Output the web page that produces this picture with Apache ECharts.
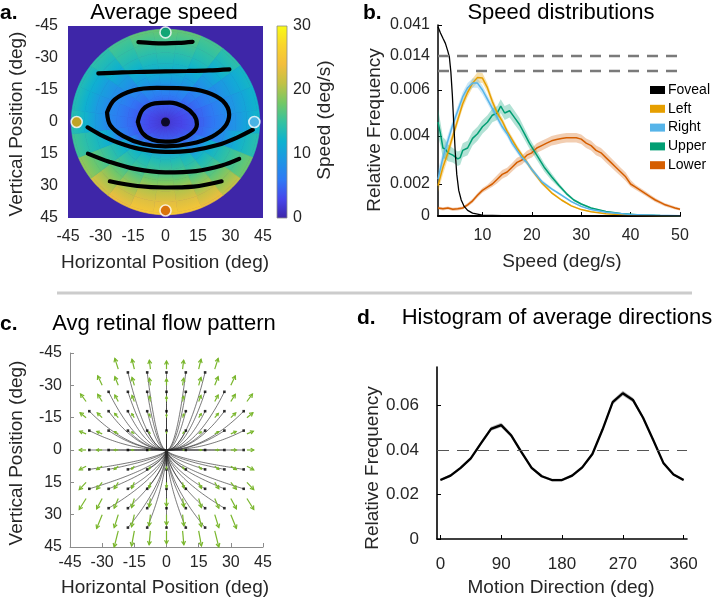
<!DOCTYPE html>
<html><head><meta charset="utf-8">
<script src="https://cdn.jsdelivr.net/npm/echarts@6/dist/echarts.min.js"></script>
<style>html,body{margin:0;padding:0;background:#fff}#c{width:713px;height:600px}</style>
</head><body><div id="c"></div>
<script>
// ================= DATA =================
// ---- Panel a: average speed field (polar samples) ----
const speedAngles = [0,15,30,45,60,75,90,105,120,135,150,165,180,195,210,225,240,255,270,285,300,315,330,345];
const speedRadii = [0,2.5,7.5,12.5,17.5,22.5,27.5,32.5,37.5,42.5];
const speedTable = [
 [1.0,2.2,2.9,3.8,4.9,6.1,7.4,8.9,10.6,12.3],
 [1.0,2.2,2.9,3.8,5.1,6.6,8.4,11.0,12.8,14.0],
 [1.0,2.2,3.3,4.6,7.0,11.6,13.3,14.8,16.1,17.5],
 [1.0,2.2,3.6,5.4,9.0,12.7,14.7,16.9,19.0,21.0],
 [1.0,2.2,3.8,8.1,12.6,14.4,16.4,19.0,21.4,23.6],
 [1.0,2.3,4.1,9.2,13.3,15.3,17.8,20.5,22.7,25.0],
 [1.0,2.3,4.1,9.8,13.4,15.5,18.1,20.9,23.1,25.4],
 [1.0,2.3,4.1,9.3,13.3,15.3,17.9,20.6,22.8,25.1],
 [1.0,2.2,3.9,8.2,12.6,14.5,16.5,19.1,21.5,23.7],
 [1.0,2.2,3.7,5.9,12.0,13.8,15.5,17.6,19.8,22.0],
 [1.0,2.2,3.3,4.3,8.2,12.4,14.0,15.6,17.4,19.0],
 [1.0,2.2,3.1,4.1,5.6,7.4,11.6,13.0,14.2,15.4],
 [1.0,2.2,3.2,4.2,5.4,6.6,7.9,9.9,12.3,13.9],
 [1.0,2.2,3.2,4.2,5.4,6.7,7.9,9.6,11.8,13.6],
 [1.0,2.2,3.4,4.6,5.9,7.2,8.6,10.0,11.9,13.6],
 [1.0,2.2,3.7,5.2,6.8,8.3,9.8,11.8,13.2,14.4],
 [1.0,2.2,3.9,6.2,8.3,10.3,12.1,13.6,14.8,15.8],
 [1.0,2.3,4.1,6.2,8.6,11.1,12.9,14.3,15.6,17.0],
 [1.0,2.3,4.1,6.4,8.9,11.4,13.1,14.5,15.8,17.2],
 [1.0,2.3,4.1,6.2,8.6,11.0,12.9,14.3,15.6,17.0],
 [1.0,2.2,3.9,6.2,8.2,10.2,12.1,13.6,14.8,15.8],
 [1.0,2.2,3.7,5.1,6.7,8.3,9.9,11.7,13.2,14.4],
 [1.0,2.2,3.3,4.5,5.7,7.0,8.4,9.8,11.2,12.6],
 [1.0,2.2,3.0,4.0,5.1,6.4,7.8,9.2,10.7,12.2]
];
const discRadius = 43.5;
const speedRange = [0, 30];
const contourInner = [[-12.8,0],[-10.5,-5.8],[-5,-8.7],[2,-9.1],[8.5,-7.2],[13.2,-3.2],[14.5,1],[12,5.4],[6,8.5],[0,9.2],[-6,8.3],[-10.6,5.2],[-12.8,0]];
const contourSecond = [[-27,-4.5],[-23.5,-10.5],[-15,-14.8],[-4,-16],[8,-15.8],[19,-14],[26.5,-9.8],[29.4,-3.5],[27.5,2],[21.5,6.8],[11.5,10.2],[0,11.4],[-10.5,10.2],[-19.5,6.6],[-25.5,1.5],[-27,-4.5]];
const contourUpperMid = [[-31,-22.8],[-20,-23.3],[-10,-23.5],[0,-23.7],[10,-23.9],[20,-24.2],[29.5,-24.7]];
const contourTop = [[-12.5,-37.4],[-6,-37.0],[0,-36.9],[6,-37.1],[12.5,-37.6]];
const contourLowerMid = [[-36,2.5],[-30,6],[-22,9.6],[-12,12.6],[0,14],[12,13.4],[24,10.8],[33,7.3],[40.3,3.6]];
const contourLower = [[-35.8,14.8],[-26,18.6],[-14,22],[0,23.6],[14,23],[26,20.4],[34,17.3]];
const contourBottom = [[-25.7,27.8],[-13,30],[0,30.7],[13,30.3],[25.9,27.8]];
const regionNames = ['Upper','Left','Right','Lower'];
const regionX = [0,-41,41,0];
const regionY = [-42,0,0,41.5];
const fixationPoint = [0, 0];

// ---- Panel b: speed distributions ----
const fovealX = [1,1.5,2,2.5,3,3.3,3.6,3.9,4.2,4.5,4.8,5.2,5.7,6.3,7,8,10,14,20,30,50];
const fovealFreq = [0.0395,0.034,0.0294,0.025,0.018,0.0135,0.0068,0.0058,0.0045,0.0033,0.0024,0.0016,0.001,0.0006,0.00035,0.00018,0.00006,0.00002,0.00001,0,0];
const sideX = [1,2,3,4,5,6,7,8,9,10,11,12,13,14,15,16,17,18,19,20,22,24,26,28,30,32,35,40,45,50];
const leftFreq = [0.0019,0.0027,0.0033,0.0040,0.0047,0.0054,0.0059,0.0063,0.00655,0.00652,0.0061,0.0055,0.0050,0.00465,0.0042,0.00385,0.0035,0.0032,0.0029,0.0026,0.00205,0.00145,0.0010,0.00063,0.0004,0.00026,0.00014,0.00005,0.00002,0.00001];
const leftCi = [0.0004,0.0003,0.00025,0.00022,0.0002,0.0002,0.0002,0.0002,0.00022,0.00022,0.0002,0.00018,0.00016,0.00015,0.00014,0.00013,0.00012,0.00011,0.0001,0.0001,0.00009,0.00008,0.00006,0.00005,0.00004,0.00003,0.00002,0.00001,0.00001,0.00001];
const rightFreq = [0.0022,0.0031,0.0038,0.0045,0.0051,0.0057,0.0061,0.0063,0.0063,0.0060,0.0056,0.0052,0.0048,0.0044,0.0041,0.0037,0.0034,0.0031,0.0029,0.0026,0.0021,0.0017,0.0013,0.0009,0.0006,0.0004,0.00024,0.0001,0.00004,0.00002];
const rightCi = [0.00035,0.0003,0.00025,0.00022,0.0002,0.0002,0.0002,0.0002,0.0002,0.0002,0.00018,0.00017,0.00016,0.00015,0.00014,0.00013,0.00012,0.00011,0.0001,0.0001,0.00009,0.00008,0.00007,0.00006,0.00005,0.00004,0.00003,0.00002,0.00001,0.00001];
const upperX = [1,1.5,2,2.5,3,4,5,5.5,6,7,8,9,10,11,12,13,13.7,14.5,15.5,16.5,17.5,18.5,19.5,21,22.5,24,25.5,27,28.5,30,32,35,38,42,46,50];
const upperFreq = [0.0046,0.0041,0.0035,0.00345,0.0033,0.0032,0.00305,0.0031,0.0034,0.0035,0.0039,0.0041,0.0044,0.0046,0.0049,0.0050,0.0053,0.0050,0.0051,0.0048,0.0045,0.0041,0.0037,0.0032,0.0027,0.0023,0.0019,0.0014,0.001,0.00075,0.0005,0.00028,0.00015,0.00007,0.00003,0.00001];
const upperCi = [0.0006,0.0005,0.00045,0.0004,0.00035,0.0003,0.0003,0.0003,0.0003,0.0003,0.0003,0.0003,0.0003,0.0003,0.0003,0.0003,0.0003,0.0003,0.0003,0.0003,0.00028,0.00025,0.00022,0.0002,0.00018,0.00015,0.00013,0.0001,0.00008,0.00006,0.00004,0.00003,0.00002,0.00001,0.00001,0.00001];
const lowerX = [1,2,3,4,5,6,7,8,9,10,11,12,13,14,15,16,17,18,19,20,21,22,23,24,25,26,27,28,29,30,31,32,33,34,35,36,37,38,39,40,41,42,43,44,45,46,47,48,49,50];
const lowerFreq = [0.0005,0.00045,0.0005,0.00042,0.00045,0.0005,0.0007,0.00095,0.0013,0.0016,0.0018,0.002,0.0022,0.0024,0.0025,0.0027,0.0029,0.003,0.0032,0.0033,0.0035,0.0036,0.0037,0.0038,0.00385,0.0039,0.00393,0.00393,0.00393,0.00387,0.0037,0.0036,0.0034,0.0033,0.0031,0.0029,0.0027,0.0025,0.0023,0.002,0.0018,0.0016,0.0014,0.0012,0.001,0.00085,0.0007,0.0006,0.0005,0.00042];
const lowerCi = [0.0001,0.0001,0.0001,0.0001,0.0001,0.0001,0.00012,0.00013,0.00014,0.00015,0.00016,0.00017,0.00017,0.00018,0.00018,0.00018,0.00019,0.00019,0.00019,0.0002,0.0002,0.0002,0.0002,0.0002,0.0002,0.0002,0.0002,0.0002,0.0002,0.0002,0.0002,0.0002,0.0002,0.0002,0.0002,0.00019,0.00019,0.00018,0.00018,0.00017,0.00016,0.00015,0.00014,0.00013,0.00012,0.00011,0.0001,0.0001,0.00009,0.00008];
const speedTicksX = [10,20,30,40,50];
const freqTicks = [0,0.002,0.004,0.006,0.014,0.041];
const axisBreak = [0.00685, 0.014];

// ---- Panel c: average retinal flow ----
const flowDotsY = [-36,-27,-18,-9,0,9,18,27,36];
const flowDotsX = [
 [-18,-9,0,9,18],
 [-27,-18,-9,0,9,18,27],
 [-36,-27,-18,-9,0,9,18,27,36],
 [-36,-27,-18,-9,0,9,18,27,36],
 [-36,-27,-18,-9,9,18,27,36],
 [-36,-27,-18,-9,0,9,18,27,36],
 [-36,-27,-18,-9,0,9,18,27,36],
 [-27,-18,-9,0,9,18,27],
 [-18,-9,0,9,18]
];
const arrowPos = [-37.5,-30,-22.5,-15,-7.5,0,7.5,15,22.5,30,37.5];
const arrowU = [
 [null,null,-1.6,-1.1,-0.5,0,0.5,1.1,1.6,null,null],
 [null,-2.1,-1.6,-1.1,-0.5,0,0.5,1.1,1.6,2.1,null],
 [-2.6,-2.1,-1.6,-1.1,-0.5,0,0.5,1.1,1.6,2.1,2.6],
 [-2.8,-2.3,-1.7,-1.2,-0.6,0,0.6,1.2,1.7,2.3,2.8],
 [-3.0,-2.5,-1.8,-1.2,-0.6,0,0.6,1.2,1.8,2.5,3.0],
 [-3.2,-2.6,-1.9,-1.3,-0.6,0,0.6,1.3,1.9,2.6,3.2],
 [-3.2,-2.6,-1.9,-1.3,-0.6,0,0.6,1.3,1.9,2.6,3.2],
 [-3.2,-2.6,-1.9,-1.3,-0.6,0,0.6,1.3,1.9,2.6,3.2],
 [-3.2,-2.6,-1.9,-1.3,-0.6,0,0.6,1.3,1.9,2.6,3.2],
 [null,-2.6,-1.9,-1.3,-0.6,0,0.6,1.3,1.9,2.6,null],
 [null,null,-1.9,-1.3,-0.6,0,0.6,1.3,1.9,null,null]
];
const arrowV = [
 [null,null,-5.0,-4.6,-4.2,-3.8,-4.2,-4.6,-5.0,null,null],
 [null,-4.4,-4.0,-3.7,-3.3,-3.0,-3.3,-3.7,-4.0,-4.4,null],
 [-3.5,-3.3,-3.0,-2.8,-2.5,-2.3,-2.5,-2.8,-3.0,-3.3,-3.5],
 [-2.3,-2.2,-2.0,-1.8,-1.7,-1.5,-1.7,-1.8,-2.0,-2.2,-2.3],
 [-1.2,-1.1,-1.0,-0.9,-0.8,-0.8,-0.8,-0.9,-1.0,-1.1,-1.2],
 [0,0,0,0,0,0,0,0,0,0,0],
 [1.7,1.6,1.5,1.4,1.3,1.2,1.3,1.4,1.5,1.6,1.7],
 [3.4,3.2,3.0,2.8,2.6,2.4,2.6,2.8,3.0,3.2,3.4],
 [5.1,4.8,4.5,4.2,3.9,3.6,3.9,4.2,4.5,4.8,5.1],
 [null,6.4,6.0,5.6,5.2,4.8,5.2,5.6,6.0,6.4,null],
 [null,null,7.5,7.0,6.5,6.0,6.5,7.0,7.5,null,null]
];

// ---- Panel d: histogram of average directions ----
const dirX = [0,15,30,45,60,75,90,105,120,135,150,165,180,195,210,225,240,255,270,285,300,315,330,345,360];
const dirFreq = [0.0265,0.0285,0.0320,0.0362,0.0430,0.0495,0.0512,0.0465,0.0390,0.0320,0.0282,0.0265,0.0265,0.0285,0.0322,0.0382,0.0492,0.0615,0.0655,0.0625,0.0545,0.0445,0.0342,0.0290,0.0265];
const dirCi = [0.0006,0.0006,0.0006,0.0007,0.0008,0.0009,0.001,0.0009,0.0008,0.0007,0.0006,0.0006,0.0006,0.0006,0.0007,0.0008,0.0009,0.001,0.0011,0.001,0.0009,0.0008,0.0007,0.0006,0.0006];
const dirUniform = 0.04;
const dirTicksX = [0,90,180,270,360];
const dirTicksY = [0,0.02,0.04,0.06];

// ================= STYLE / SCALES =================
const FONT = '"Liberation Sans", Arial, Helvetica, sans-serif';
const TXT = '#262626';
const PARULA = ['#3e26a8','#4746eb','#2f79f5','#1e96e4','#0db2cf','#35c29f','#74c865','#c1c246','#f3be3d','#f9d52c','#f9fb15'];
const regionColor = {Foveal:'#000000', Left:'#E69F00', Right:'#56B4E9', Upper:'#009E73', Lower:'#D55E00'};
const GREEN = '#79b62c';
const FLOW_BEND_UPPER = 2.0;   // streamline curvature, upper field
const FLOW_BEND_LOWER = 0.6;   // streamline curvature, lower field

function hex2rgb(h){return [parseInt(h.slice(1,3),16),parseInt(h.slice(3,5),16),parseInt(h.slice(5,7),16)];}
const PARULA_RGB = PARULA.map(hex2rgb);
function parula(v){
  let t = (v - speedRange[0])/(speedRange[1]-speedRange[0]);
  t = Math.max(0, Math.min(1, t));
  const f = t*(PARULA_RGB.length-1), i = Math.min(Math.floor(f), PARULA_RGB.length-2), w = f - i;
  const a = PARULA_RGB[i], b = PARULA_RGB[i+1];
  return 'rgb(' + [0,1,2].map(k => Math.round(a[k]+(b[k]-a[k])*w)).join(',') + ')';
}

// broken-axis display scale for panel b (value -> display units)
const bScaleVals = [0, 0.002, 0.004, 0.006, axisBreak[0], axisBreak[1], 0.041];
const bScalePos  = [0, 32, 80, 126, 145.5, 160, 191];
function T(v){
  if (v <= bScaleVals[0]) return bScalePos[0];
  for (let i = 1; i < bScaleVals.length; i++){
    if (v <= bScaleVals[i]){
      const f = (v - bScaleVals[i-1])/(bScaleVals[i]-bScaleVals[i-1]);
      return bScalePos[i-1] + f*(bScalePos[i]-bScalePos[i-1]);
    }
  }
  return bScalePos[bScalePos.length-1];
}
const ID = v => v;

// ================= RENDERERS =================
const SECTOR_HALF = 7.5;
function renderSpeedCell(params, api){
  const ai = api.value(0), ri = api.value(1);
  const th = speedAngles[ai];
  const last = ri === speedRadii.length - 1;
  const r0 = speedRadii[ri], r1 = last ? discRadius : speedRadii[ri+1];
  const v0 = speedTable[ai][ri], v1 = last ? v0 : speedTable[ai][ri+1];
  const pts = [], steps = 6;
  for (let k = 0; k <= steps; k++){
    const a = (th - SECTOR_HALF + 2*SECTOR_HALF*k/steps) * Math.PI/180;
    pts.push(api.coord([r1*Math.cos(a), r1*Math.sin(a)]));
  }
  for (let k = steps; k >= 0; k--){
    const a = (th - SECTOR_HALF + 2*SECTOR_HALF*k/steps) * Math.PI/180;
    pts.push(api.coord([r0*Math.cos(a), r0*Math.sin(a)]));
  }
  const c = api.coord([0,0]);
  const rpx = Math.abs(api.coord([r1,0])[0] - c[0]);
  const fill = {type:'radial', x:c[0], y:c[1], r:rpx, global:true,
    colorStops:[{offset:r0/r1, color:parula(v0)},{offset:1, color:parula(v1)}]};
  return {type:'polygon', shape:{points:pts}, style:{fill:fill, stroke:fill, lineWidth:0.6}};
}
function renderColorbar(params, api){
  const p0 = api.coord([0, speedRange[0]]), p1 = api.coord([1, speedRange[1]]);
  return {type:'rect', shape:{x:p0[0], y:p1[1], width:p1[0]-p0[0], height:p0[1]-p1[1]},
    style:{fill:{type:'linear', x:0, y:1, x2:0, y2:0, colorStops:PARULA.map((c,i)=>({offset:i/(PARULA.length-1), color:c}))},
      stroke:'#8c8c8c', lineWidth:0.8}};
}
function bandRenderer(xs, vs, cs, trans, color){
  return function(params, api){
    const pts = [];
    for (let i = 0; i < xs.length; i++) pts.push(api.coord([xs[i], trans(vs[i] + (cs[i]||0))]));
    for (let i = xs.length-1; i >= 0; i--) pts.push(api.coord([xs[i], trans(Math.max(0, vs[i] - (cs[i]||0)))]));
    return {type:'polygon', shape:{points:pts}, style:{fill:color}};
  };
}
function renderFlowLine(params, api){
  const x0 = api.value(0), y0 = api.value(1);
  const k = (x0 === 0 || y0 === 0) ? 1 : (y0 < 0 ? FLOW_BEND_UPPER : FLOW_BEND_LOWER);
  const pts = [];
  for (let i = 0; i <= 40; i++){ const t = i/40; pts.push(api.coord([x0*t, y0*Math.pow(t,k)])); }
  return {type:'polyline', shape:{points:pts}, style:{stroke:'#2a2a2a', lineWidth:0.7, fill:null, opacity:0.9}};
}
function renderArrow(params, api){
  const x = api.value(0), y = api.value(1), u = api.value(2), v = api.value(3);
  const p0 = api.coord([x,y]), p1 = api.coord([x+u, y+v]);
  const dx = p1[0]-p0[0], dy = p1[1]-p0[1], len = Math.hypot(dx,dy);
  if (len < 0.5) return {type:'group', children:[]};
  const ux = dx/len, uy = dy/len, hl = Math.min(3.6, len*0.45), hw = hl*0.55;
  const b1 = [p1[0]-ux*hl - uy*hw, p1[1]-uy*hl + ux*hw];
  const b2 = [p1[0]-ux*hl + uy*hw, p1[1]-uy*hl - ux*hw];
  return {type:'group', children:[
    {type:'line', shape:{x1:p0[0],y1:p0[1],x2:p1[0],y2:p1[1]}, style:{stroke:GREEN, lineWidth:1.2}},
    {type:'polyline', shape:{points:[b1,p1,b2]}, style:{stroke:GREEN, lineWidth:1.2, fill:null}}
  ]};
}

// ================= BUILD SERIES DATA =================
const speedCells = [];
speedAngles.forEach((a, ai) => speedRadii.forEach((r, ri) => speedCells.push([ai, ri])));
const flowDots = [];
flowDotsY.forEach((y, i) => flowDotsX[i].forEach(x => flowDots.push([x, y])));
const arrows = [];
arrowPos.forEach((y, i) => arrowPos.forEach((x, j) => { if (arrowU[i][j] !== null) arrows.push([x, y, arrowU[i][j], arrowV[i][j]]); }));

function contourSeries(d){
  return {type:'line', xAxisIndex:0, yAxisIndex:0, data:d, smooth:0.35, symbol:'none', z:3,
    lineStyle:{color:'#000', width:4.2, cap:'round'}, silent:true};
}
function lineSeries(name, xs, vs, width){
  return {type:'line', name:name, xAxisIndex:2, yAxisIndex:2, data:xs.map((x,i)=>[x, T(vs[i])]),
    symbol:'none', z:4, lineStyle:{color:regionColor[name], width:width}, itemStyle:{color:regionColor[name]}};
}
function bandSeries(xs, vs, cs, color){
  return {type:'custom', xAxisIndex:2, yAxisIndex:2, data:[[xs[0],0]], renderItem:bandRenderer(xs, vs, cs, T, color), z:2, silent:true};
}
const lbl = (extra) => Object.assign({fontSize:16, fontFamily:FONT, color:TXT}, extra);
const TITLE_FONT = '22px ' + FONT, PANEL_FONT = 'bold 21px ' + FONT, NAME_FONT = '19px ' + FONT;

const option = {
  animation:false,
  backgroundColor:'#fff',
  textStyle:{fontFamily:FONT},
  grid:[
    {left:68, top:26, width:195, height:192, show:true, backgroundColor:PARULA[0], borderWidth:0},
    {left:277, top:26, width:10, height:192},
    {left:438, top:25, width:242, height:191},
    {left:70, top:353, width:193, height:194},
    {left:437, top:367, width:250, height:172}
  ],
  xAxis:[
    {type:'value', gridIndex:0, min:-45, max:45, interval:15, axisLine:{show:false}, axisTick:{show:false}, splitLine:{show:false}, axisLabel:lbl({margin:11})},
    {type:'value', gridIndex:1, min:0, max:1, show:false},
    {type:'value', gridIndex:2, min:1, max:50, splitLine:{show:false},
      axisLine:{show:true, onZero:false, lineStyle:{color:'#000', width:2}},
      axisTick:{show:true, inside:true, length:4, customValues:speedTicksX, lineStyle:{color:'#000'}},
      axisLabel:lbl({margin:12, customValues:speedTicksX})},
    {type:'value', gridIndex:3, min:-45, max:45, interval:15, splitLine:{show:false},
      axisLine:{show:true, onZero:false, lineStyle:{color:'#8c8c8c', width:1}},
      axisTick:{show:true, inside:true, length:4, lineStyle:{color:'#8c8c8c'}},
      axisLabel:lbl({margin:8})},
    {type:'value', gridIndex:4, min:-5, max:365, splitLine:{show:false},
      axisLine:{show:true, onZero:false, lineStyle:{color:'#000', width:1.6}},
      axisTick:{show:true, inside:true, length:4, customValues:dirTicksX, lineStyle:{color:'#000'}},
      axisLabel:lbl({fontSize:17, margin:17, customValues:dirTicksX})}
  ],
  yAxis:[
    {type:'value', gridIndex:0, min:-45, max:45, interval:15, inverse:true, axisLine:{show:false}, axisTick:{show:false}, splitLine:{show:false}, axisLabel:lbl({margin:10})},
    {type:'value', gridIndex:1, min:speedRange[0], max:speedRange[1], interval:10, position:'right', axisLine:{show:false}, axisTick:{show:false}, splitLine:{show:false}, axisLabel:lbl({margin:6})},
    {type:'value', gridIndex:2, min:0, max:bScalePos[bScalePos.length-1], splitLine:{show:false},
      axisLine:{show:true, onZero:false, lineStyle:{color:'#000', width:1.5}},
      axisTick:{show:true, inside:true, length:4, customValues:freqTicks.map(T), lineStyle:{color:'#000'}},
      axisLabel:lbl({margin:8, customValues:freqTicks.map(T), formatter:(v)=>{
        const t = freqTicks.find(f => Math.abs(T(f)-v) < 1e-6); return t === 0 ? '0' : (t === undefined ? '' : t.toFixed(3)); }})},
    {type:'value', gridIndex:3, min:-45, max:45, interval:15, inverse:true, splitLine:{show:false},
      axisLine:{show:true, onZero:false, lineStyle:{color:'#8c8c8c', width:1}},
      axisTick:{show:true, inside:true, length:4, lineStyle:{color:'#8c8c8c'}},
      axisLabel:lbl({margin:8})},
    {type:'value', gridIndex:4, min:0, max:0.0773, splitLine:{show:false},
      axisLine:{show:true, onZero:false, lineStyle:{color:'#000', width:1.6}},
      axisTick:{show:true, inside:true, length:4, customValues:dirTicksY, lineStyle:{color:'#000'}},
      axisLabel:lbl({fontSize:17, margin:18, customValues:dirTicksY, formatter:(v)=> v === 0 ? '0' : v.toFixed(2)})}
  ],
  legend:{data:['Foveal','Left','Right','Upper','Lower'], orient:'vertical', left:650, top:83, padding:0,
    itemWidth:15, itemHeight:8, itemGap:4.8, icon:'rect', selectedMode:false,
    textStyle:{fontSize:14, fontFamily:FONT, color:'#000', padding:[0,0,0,-2]}},
  series:[
    // ---- panel a ----
    {type:'custom', xAxisIndex:0, yAxisIndex:0, data:speedCells, renderItem:renderSpeedCell, z:1, silent:true},
    contourSeries(contourInner), contourSeries(contourSecond), contourSeries(contourUpperMid),
    contourSeries(contourTop), contourSeries(contourLowerMid), contourSeries(contourLower), contourSeries(contourBottom),
    {type:'scatter', xAxisIndex:0, yAxisIndex:0, data:[fixationPoint], symbolSize:9, z:5, itemStyle:{color:'#000'}, silent:true},
    {type:'scatter', xAxisIndex:0, yAxisIndex:0, data:regionX.map((x,i)=>[x, regionY[i]]), symbolSize:11, z:5, silent:true,
      itemStyle:{color:(p)=>regionColor[regionNames[p.dataIndex]], borderColor:'#fff', borderWidth:1.6}},
    {type:'custom', xAxisIndex:1, yAxisIndex:1, data:[[0, speedRange[0]]], renderItem:renderColorbar, silent:true},
    // ---- panel b ----
    bandSeries(sideX, leftFreq, leftCi, 'rgba(230,159,0,0.32)'),
    bandSeries(sideX, rightFreq, rightCi, 'rgba(86,180,233,0.32)'),
    bandSeries(upperX, upperFreq, upperCi, 'rgba(0,158,115,0.30)'),
    bandSeries(lowerX, lowerFreq, lowerCi, 'rgba(213,94,0,0.30)'),
    lineSeries('Lower', lowerX, lowerFreq, 1.5),
    lineSeries('Upper', upperX, upperFreq, 1.5),
    lineSeries('Left', sideX, leftFreq, 1.5),
    lineSeries('Right', sideX, rightFreq, 1.5),
    Object.assign(lineSeries('Foveal', fovealX, fovealFreq, 1.3), {
      markLine:{symbol:'none', silent:true, label:{show:false}, z:6,
        lineStyle:{color:'#7a7a7a', width:2.4, type:[11,8]},
        data:axisBreak.map(v => ({yAxis:T(v)}))}}),
    // ---- panel c ----
    {type:'custom', xAxisIndex:3, yAxisIndex:3, data:flowDots.filter(p => p[0] !== 0 || p[1] !== 0), renderItem:renderFlowLine, z:2, silent:true},
    {type:'scatter', xAxisIndex:3, yAxisIndex:3, data:flowDots, symbol:'rect', symbolSize:2.6, z:3, itemStyle:{color:'#000'}, silent:true},
    {type:'custom', xAxisIndex:3, yAxisIndex:3, data:arrows, renderItem:renderArrow, z:4, silent:true},
    // ---- panel d ----
    {type:'custom', xAxisIndex:4, yAxisIndex:4, data:[[0,0]], renderItem:bandRenderer(dirX, dirFreq, dirCi, ID, '#b9b9b9'), z:2, silent:true},
    {type:'line', xAxisIndex:4, yAxisIndex:4, data:dirX.map((x,i)=>[x, dirFreq[i]]), symbol:'none', z:4,
      lineStyle:{color:'#000', width:2.3}, silent:true,
      markLine:{symbol:'none', silent:true, label:{show:false}, lineStyle:{color:'#555', width:1, type:[12,8]}, data:[{yAxis:dirUniform}]}}
  ],
  graphic:{elements:[
    {type:'line', shape:{x1:57, y1:293, x2:692, y2:293}, style:{stroke:'#cccccc', lineWidth:3}},
    {type:'text', x:0, y:13, style:{text:'a.', font:PANEL_FONT, fill:'#000', align:'left', verticalAlign:'middle'}},
    {type:'text', x:164, y:13, style:{text:'Average speed', font:TITLE_FONT, fill:'#000', align:'center', verticalAlign:'middle'}},
    {type:'text', x:363, y:13, style:{text:'b.', font:PANEL_FONT, fill:'#000', align:'left', verticalAlign:'middle'}},
    {type:'text', x:561, y:13, style:{text:'Speed distributions', font:TITLE_FONT, fill:'#000', align:'center', verticalAlign:'middle'}},
    {type:'text', x:0, y:324, style:{text:'c.', font:PANEL_FONT, fill:'#000', align:'left', verticalAlign:'middle'}},
    {type:'text', x:164, y:324, style:{text:'Avg retinal flow pattern', font:TITLE_FONT, fill:'#000', align:'center', verticalAlign:'middle'}},
    {type:'text', x:357, y:318, style:{text:'d.', font:PANEL_FONT, fill:'#000', align:'left', verticalAlign:'middle'}},
    {type:'text', x:557, y:318, style:{text:'Histogram of average directions', font:TITLE_FONT, fill:'#000', align:'center', verticalAlign:'middle'}},
    {type:'text', x:17, y:124, rotation:Math.PI/2, style:{text:'Vertical Position (deg)', font:NAME_FONT, fill:TXT, align:'center', verticalAlign:'middle'}},
    {type:'text', x:165, y:263, style:{text:'Horizontal Position (deg)', font:NAME_FONT, fill:TXT, align:'center', verticalAlign:'middle'}},
    {type:'text', x:325, y:120, rotation:Math.PI/2, style:{text:'Speed (deg/s)', font:NAME_FONT, fill:TXT, align:'center', verticalAlign:'middle'}},
    {type:'text', x:375, y:130, rotation:Math.PI/2, style:{text:'Relative Frequency', font:NAME_FONT, fill:TXT, align:'center', verticalAlign:'middle'}},
    {type:'text', x:562, y:262, style:{text:'Speed (deg/s)', font:NAME_FONT, fill:TXT, align:'center', verticalAlign:'middle'}},
    {type:'text', x:17, y:453, rotation:Math.PI/2, style:{text:'Vertical Position (deg)', font:NAME_FONT, fill:TXT, align:'center', verticalAlign:'middle'}},
    {type:'text', x:165, y:588, style:{text:'Horizontal Position (deg)', font:NAME_FONT, fill:TXT, align:'center', verticalAlign:'middle'}},
    {type:'text', x:373, y:468, rotation:Math.PI/2, style:{text:'Relative Frequency', font:NAME_FONT, fill:TXT, align:'center', verticalAlign:'middle'}},
    {type:'text', x:561, y:588, style:{text:'Motion Direction (deg)', font:NAME_FONT, fill:TXT, align:'center', verticalAlign:'middle'}}
  ]}
};
const chart = echarts.init(document.getElementById('c'), null, {renderer:'canvas', width:713, height:600});
chart.setOption(option);
</script></body></html>
